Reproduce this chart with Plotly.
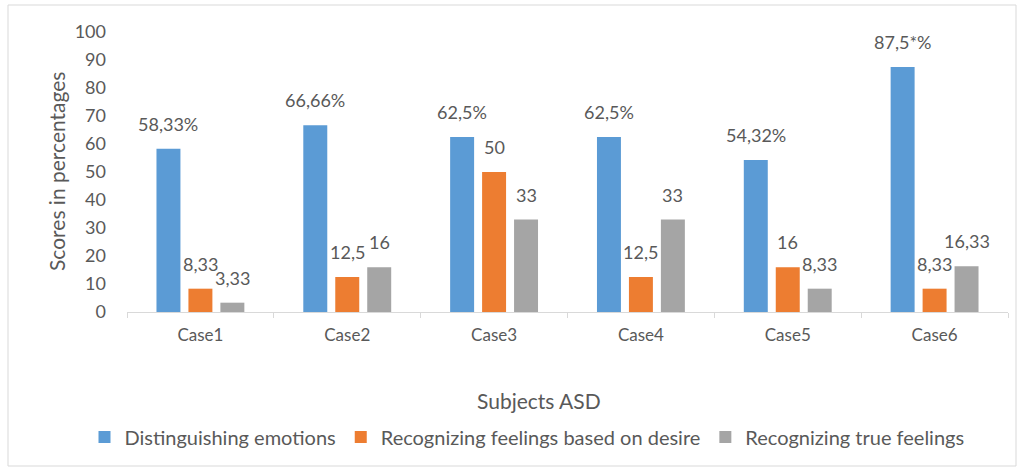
import plotly.graph_objects as go

categories = ["Case1", "Case2", "Case3", "Case4", "Case5", "Case6"]
series_names = ["Distinguishing emotions", "Recognizing feelings based on desire", "Recognizing true feelings"]
distinguishing = [58.33, 66.66, 62.5, 62.5, 54.32, 87.5]
desire = [8.33, 12.5, 50, 12.5, 16, 8.33]
true_feel = [3.33, 16, 33, 33, 8.33, 16.33]
distinguishing_labels = ["58,33%", "66,66%", "62,5%", "62,5%", "54,32%", "87,5*%"]
desire_labels = ["8,33", "12,5", "50", "12,5", "16", "8,33"]
true_labels = ["3,33", "16", "33", "33", "8,33", "16,33"]
y_ticks = [0, 10, 20, 30, 40, 50, 60, 70, 80, 90, 100]

colors = ["#5B9BD5", "#ED7D31", "#A5A5A5"]
txt = "#595959"
FONT = "Lato"

L, R, T, B = 127, 16, 32, 158
W, H = 1024, 470
pw, ph = W - L - R, H - T - B

fig = go.Figure()
all_vals = [distinguishing, desire, true_feel]
all_labels = [distinguishing_labels, desire_labels, true_labels]
for name, vals, col in zip(series_names, all_vals, colors):
    fig.add_trace(go.Bar(x=categories, y=vals, name=name, marker=dict(color=col, line=dict(width=0))))

annotations = []
slot = pw / 6 * (1 - 0.347) / 3
for i, (vals, labs) in enumerate(zip(all_vals, all_labels)):
    for c, v, lab in zip(categories, vals, labs):
        annotations.append(dict(x=c, y=v, xref="x", yref="y", text=lab, showarrow=False,
                                xshift=(i - 1) * slot, yshift=12, yanchor="bottom",
                                font=dict(family=FONT, size=18, color=txt)))

def px_to_paper_x(px):
    return (px - L) / pw

def py_to_paper_y(py):
    return (H - B - py) / ph

annotations.append(dict(text="Subjects ASD", x=px_to_paper_x(539), y=py_to_paper_y(400), xref="paper", yref="paper",
                        showarrow=False, xanchor="center", yanchor="middle",
                        font=dict(family=FONT, size=21, color=txt)))
annotations.append(dict(text="Scores in percentages", x=px_to_paper_x(56), y=py_to_paper_y(172), xref="paper", yref="paper",
                        showarrow=False, xanchor="center", yanchor="middle", textangle=-90,
                        font=dict(family=FONT, size=21, color=txt)))

fig.update_layout(
    width=W, height=H,
    margin=dict(l=L, r=R, t=T, b=B),
    paper_bgcolor="white", plot_bgcolor="white",
    barmode="group", bargap=0.347, bargroupgap=0.25,
    font=dict(family=FONT, size=16, color=txt),
    annotations=annotations,
    showlegend=True,
    legend=dict(orientation="h", x=px_to_paper_x(527), xanchor="center", y=py_to_paper_y(437), yanchor="middle",
                font=dict(family=FONT, size=20, color=txt), itemwidth=30, traceorder="normal"),
    shapes=[dict(type="rect", xref="paper", yref="paper",
                 x0=px_to_paper_x(8), x1=px_to_paper_x(1016), y0=py_to_paper_y(466), y1=py_to_paper_y(5),
                 line=dict(color="#D9D9D9", width=1), fillcolor="rgba(0,0,0,0)", layer="below")],
)
fig.update_xaxes(showline=True, linecolor="#D9D9D9", linewidth=1, showgrid=False,
                 ticks="outside", tickson="boundaries", ticklen=5, tickcolor="#D9D9D9",
                 ticklabelstandoff=8, tickfont=dict(family=FONT, size=17, color=txt))
fig.update_yaxes(range=[0, 100], tickvals=y_ticks, showgrid=False, showline=False, zeroline=False,
                 ticklabelstandoff=20, tickfont=dict(family=FONT, size=18, color=txt))

fig.write_html("out.html")
